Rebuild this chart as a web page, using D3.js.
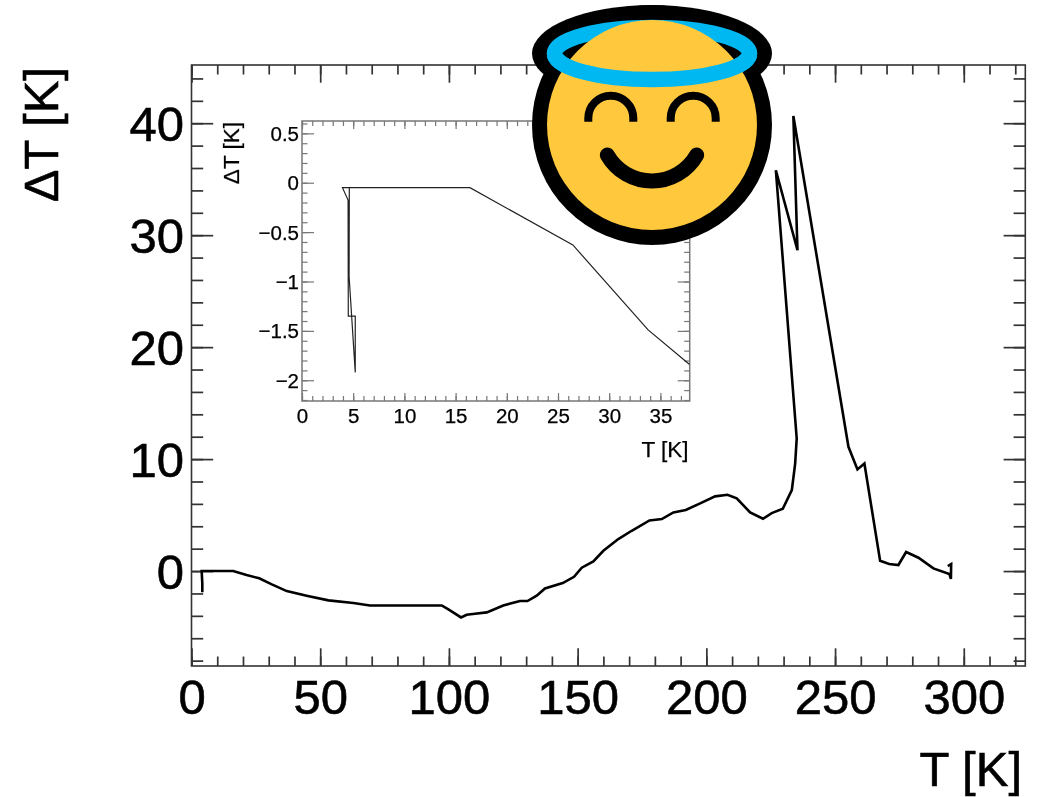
<!DOCTYPE html>
<html><head><meta charset="utf-8">
<script src="https://cdn.jsdelivr.net/npm/d3@7"></script>
<style>
html,body{margin:0;padding:0;background:#fff}
svg{display:block;font-family:"Liberation Sans",Arial,sans-serif;filter:blur(0.45px)}
</style></head><body><div id="c"></div>
<script>
// Main curve
const mainT = [4.2,4.2,3.95,16.2,21.4,26.3,31.2,37,44.7,53.2,62.9,69.3,97.2,99.8,104.7,106.9,110.1,114.7,121.1,127.6,130.5,134.1,137.3,144.2,148.6,151.6,156.1,160,165.8,171,177.9,182.7,187.2,192,197.6,203.4,208.2,211.8,217,222,225.4,229.7,233.2,234.5,235.1,227,235.4,233.8,255.2,258.7,261.4,267.5,271,274.6,277.6,282.4,288.2,294.4,295,295.1,293.8];
const mainD = [-1.9,-1.1,0,0,-0.36,-0.65,-1.19,-1.79,-2.2,-2.62,-2.86,-3.07,-3.07,-3.42,-4.14,-3.9,-3.81,-3.69,-3.07,-2.68,-2.68,-2.2,-1.55,-1.07,-0.51,0.3,0.86,1.81,2.86,3.6,4.52,4.64,5.24,5.45,6.04,6.67,6.81,6.49,5.24,4.67,5.18,5.56,7.23,9.6,11.85,35.8,28.66,40.65,11.1,9.08,9.6,0.92,0.63,0.54,1.7,1.19,0.24,-0.27,-0.7,0.63,0.45];
// Inset curve
const insetT = [37.85,33.8,26.45,16.4,4.62,3.95,4.5,4.52,5.2,5.2,4.6,4.62];
const insetD = [-1.84,-1.49,-0.63,-0.05,-0.05,-0.05,-0.175,-1.35,-1.35,-1.92,-0.95,-0.05];
// Ticks
const mainXTicks = [0,50,100,150,200,250,300];
const mainYTicks = [0,10,20,30,40];
const insetXTicks = [0,5,10,15,20,25,30,35];
const insetYTicks = [-2,-1.5,-1,-0.5,0,0.5];
const xLabel = "T [K]", yLabel = "ΔT [K]";

const W=1040,H=797;
const svg=d3.select("#c").append("svg").attr("width",W).attr("height",H);
const fmt=v=>String(v).replace("-","\u2212");

function panel(o){
  const x=d3.scaleLinear().domain(o.xd).range([o.l,o.r]);
  const y=d3.scaleLinear().domain(o.yd).range([o.b,o.t]);
  const g=svg.append("g");
  g.append("rect").attr("x",o.l).attr("y",o.t).attr("width",o.r-o.l).attr("height",o.b-o.t)
    .attr("fill","#fff").attr("stroke",o.col).attr("stroke-width",o.fw);
  const sw=(s)=>{s.select(".domain").remove();s.selectAll("line").attr("stroke",o.col).attr("stroke-width",o.tw);};
  const put=(ax,tx,ty)=>g.append("g").attr("transform",`translate(${tx},${ty})`).call(ax).call(sw);
  const xMinor=d3.range(0,o.xd[1],o.xm);
  const yMinor=d3.range(Math.ceil(o.yd[0]/o.ym)*o.ym,o.yd[1],o.ym).map(v=>+v.toFixed(3));
  const empty=()=>"";
  // minor
  put(d3.axisBottom(x).tickValues(xMinor).tickFormat(empty).tickSizeInner(-o.xmin).tickSizeOuter(0),0,o.b);
  put(d3.axisTop(x).tickValues(xMinor).tickFormat(empty).tickSizeInner(-o.xmin).tickSizeOuter(0),0,o.t);
  put(d3.axisLeft(y).tickValues(yMinor).tickFormat(empty).tickSizeInner(-o.ymin).tickSizeOuter(0),o.l,0);
  put(d3.axisRight(y).tickValues(yMinor).tickFormat(empty).tickSizeInner(-o.ymin).tickSizeOuter(0),o.r,0);
  // major
  const xb=put(d3.axisBottom(x).tickValues(o.xt).tickFormat(fmt).tickSizeInner(-o.xmaj).tickSizeOuter(0).tickPadding(0),0,o.b);
  put(d3.axisTop(x).tickValues(o.xt).tickFormat(empty).tickSizeInner(-o.xmaj).tickSizeOuter(0),0,o.t);
  const yl=put(d3.axisLeft(y).tickValues(o.yt).tickFormat(fmt).tickSizeInner(-o.ymaj).tickSizeOuter(0).tickPadding(0),o.l,0);
  put(d3.axisRight(y).tickValues(o.yt).tickFormat(empty).tickSizeInner(-o.ymaj).tickSizeOuter(0),o.r,0);
  const style=s=>s.attr("font-family","inherit").attr("fill","#000").attr("stroke","#000").attr("stroke-width",o.ts);
  xb.selectAll("text").attr("font-size",o.fs).call(style).attr("dy",null).attr("y",o.xbase-o.b);
  yl.selectAll("text").attr("font-size",o.fs).call(style).attr("dy",null).attr("x",o.ylr-o.l).attr("y",o.yoff);
  // curve
  const id="clip"+o.id;
  svg.append("clipPath").attr("id",id).append("rect").attr("x",o.l).attr("y",o.t).attr("width",o.r-o.l).attr("height",o.b-o.t);
  const line=d3.line().x(d=>x(d[0])).y(d=>y(d[1]));
  g.append("path").datum(d3.zip(o.dx,o.dy)).attr("d",line).attr("fill","none")
    .attr("stroke",o.lc).attr("stroke-width",o.lw).attr("stroke-linejoin","miter").attr("clip-path",`url(#${id})`);
  // titles
  g.append("text").text(xLabel).attr("x",o.xtR).attr("y",o.xtB).attr("text-anchor","end").attr("font-size",o.lfs).call(style);
  g.append("text").text(yLabel).attr("transform",`translate(${o.ytB},${o.ytT}) rotate(-90)`).attr("text-anchor","end").attr("font-size",o.lfs).call(style);
}

panel({id:"m",l:191.5,r:1025.3,t:65,b:666,xd:[0,323.9],yd:[-8.48,45.2],xt:mainXTicks,yt:mainYTicks,xm:10,ym:2,
  xmin:9.5,xmaj:17.7,ymin:11.7,ymaj:21.7,col:"#333",fw:1.6,tw:1.7,fs:49,lfs:49,ts:0.6,
  xbase:714,ylr:184,yoff:17.5,xtR:1022,xtB:786,ytB:58,ytT:67,dx:mainT,dy:mainD,lc:"#000",lw:2.6});
panel({id:"i",l:302,r:689.7,t:121,b:401,xd:[0,37.86],yd:[-2.21,0.625],xt:insetXTicks,yt:insetYTicks,xm:1,ym:0.1,
  xmin:5,xmaj:8,ymin:5.5,ymaj:12,col:"#777",fw:1.5,tw:1.2,fs:20.5,lfs:22.5,ts:0.25,
  xbase:423,ylr:299,yoff:7,xtR:688.5,xtB:457,ytB:239,ytT:122,dx:insetT,dy:insetD,lc:"#222",lw:1.2});

// Smiling-face-with-halo emoji overlay
const e=svg.append("g");
e.append("circle").attr("cx",652).attr("cy",125).attr("r",120).attr("fill","#000");
e.append("ellipse").attr("cx",652).attr("cy",53.5).attr("rx",120).attr("ry",48.5).attr("fill","#000");
e.append("ellipse").attr("cx",652).attr("cy",53.5).attr("rx",97.5).attr("ry",26).attr("fill","none").attr("stroke","#00B8F1").attr("stroke-width",15.5);
e.append("circle").attr("cx",652).attr("cy",125).attr("r",105).attr("fill","#FFC83D");
e.append("path").attr("d","M554.5 53.5A97.5 26 0 0 0 749.5 53.5").attr("fill","none").attr("stroke","#00B8F1").attr("stroke-width",15.5);
for(const cx of [610.8,693.2]){
  e.append("path").attr("d",`M${cx-22.5} 121.7V118.2A22.5 22.5 0 0 1 ${cx+22.5} 118.2V121.7`).attr("fill","none").attr("stroke","#000").attr("stroke-width",8);
}
e.append("path").attr("d","M607.3 155A51.4 51.4 0 0 0 696.7 155").attr("fill","none").attr("stroke","#000").attr("stroke-width",15).attr("stroke-linecap","round");
</script></body></html>
